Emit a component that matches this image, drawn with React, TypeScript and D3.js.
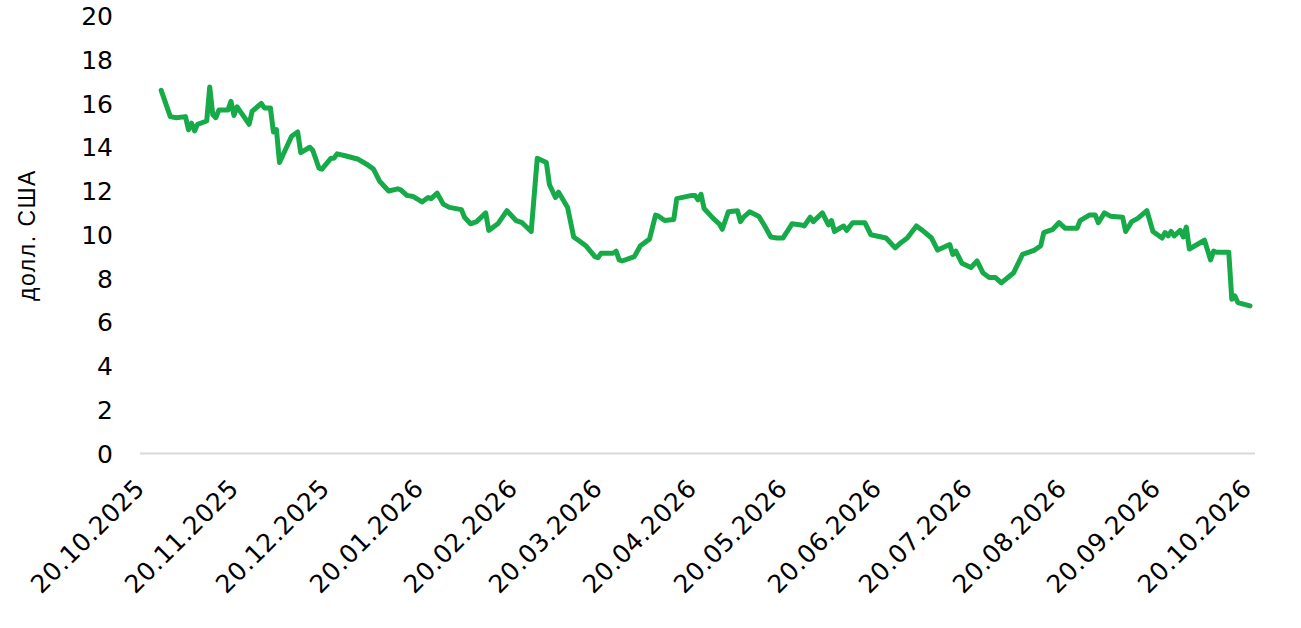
import React, { useEffect, useRef } from "react";
import * as d3 from "d3";

const dates = [
  "2025-10-26", "2025-10-29", "2025-10-31", "2025-11-03", "2025-11-04", "2025-11-05", "2025-11-06", "2025-11-07",
  "2025-11-10", "2025-11-11", "2025-11-12", "2025-11-13", "2025-11-14", "2025-11-17", "2025-11-18", "2025-11-19",
  "2025-11-20", "2025-11-21", "2025-11-24", "2025-11-25", "2025-11-28", "2025-11-29", "2025-12-01", "2025-12-02",
  "2025-12-03", "2025-12-04", "2025-12-08", "2025-12-10", "2025-12-11", "2025-12-14", "2025-12-15", "2025-12-17",
  "2025-12-18", "2025-12-21", "2025-12-22", "2025-12-23", "2025-12-26", "2025-12-30", "2026-01-02", "2026-01-04",
  "2026-01-06", "2026-01-07", "2026-01-09", "2026-01-12", "2026-01-13", "2026-01-15", "2026-01-17", "2026-01-20",
  "2026-01-22", "2026-01-23", "2026-01-25", "2026-01-27", "2026-01-29", "2026-02-02", "2026-02-03", "2026-02-05",
  "2026-02-07", "2026-02-10", "2026-02-11", "2026-02-14", "2026-02-17", "2026-02-20", "2026-02-22", "2026-02-25",
  "2026-02-27", "2026-03-02", "2026-03-03", "2026-03-05", "2026-03-06", "2026-03-09", "2026-03-11", "2026-03-13",
  "2026-03-15", "2026-03-18", "2026-03-19", "2026-03-20", "2026-03-24", "2026-03-25", "2026-03-26", "2026-03-27",
  "2026-03-31", "2026-04-02", "2026-04-05", "2026-04-07", "2026-04-08", "2026-04-10", "2026-04-13", "2026-04-14",
  "2026-04-19", "2026-04-20", "2026-04-21", "2026-04-22", "2026-04-23", "2026-04-26", "2026-04-28", "2026-04-29",
  "2026-05-01", "2026-05-04", "2026-05-05", "2026-05-06", "2026-05-08", "2026-05-11", "2026-05-13", "2026-05-15",
  "2026-05-17", "2026-05-19", "2026-05-22", "2026-05-25", "2026-05-26", "2026-05-28", "2026-05-29", "2026-06-01",
  "2026-06-03", "2026-06-04", "2026-06-05", "2026-06-08", "2026-06-09", "2026-06-11", "2026-06-15", "2026-06-17",
  "2026-06-22", "2026-06-23", "2026-06-25", "2026-06-27", "2026-06-29", "2026-07-02", "2026-07-04", "2026-07-07",
  "2026-07-09", "2026-07-13", "2026-07-14", "2026-07-15", "2026-07-17", "2026-07-20", "2026-07-22", "2026-07-24",
  "2026-07-26", "2026-07-28", "2026-07-30", "2026-08-03", "2026-08-06", "2026-08-10", "2026-08-12", "2026-08-13",
  "2026-08-16", "2026-08-18", "2026-08-20", "2026-08-24", "2026-08-25", "2026-08-28", "2026-08-30", "2026-08-31",
  "2026-09-02", "2026-09-04", "2026-09-08", "2026-09-09", "2026-09-11", "2026-09-13", "2026-09-16", "2026-09-18",
  "2026-09-21", "2026-09-22", "2026-09-23", "2026-09-24", "2026-09-25", "2026-09-27", "2026-09-28", "2026-09-29",
  "2026-09-30", "2026-10-05", "2026-10-07", "2026-10-08", "2026-10-09", "2026-10-13", "2026-10-14", "2026-10-15",
  "2026-10-16", "2026-10-20",
];

const prices = [
  16.6, 15.4, 15.35, 15.4, 14.8, 15.1, 14.75, 15.05,
  15.2, 16.75, 15.5, 15.35, 15.7, 15.7, 16.1, 15.45,
  15.85, 15.65, 15.05, 15.65, 16.0, 15.8, 15.8, 14.7,
  14.8, 13.3, 14.5, 14.7, 13.75, 14.0, 13.85, 13.05,
  13.0, 13.5, 13.5, 13.7, 13.6, 13.45, 13.2, 13.0,
  12.45, 12.3, 12.0, 12.1, 12.05, 11.8, 11.75, 11.5,
  11.7, 11.65, 11.9, 11.4, 11.25, 11.15, 10.8, 10.5,
  10.6, 11.0, 10.2, 10.5, 11.1, 10.65, 10.55, 10.15,
  13.5, 13.3, 12.3, 11.7, 11.95, 11.25, 9.9, 9.7,
  9.5, 9.0, 8.95, 9.15, 9.15, 9.25, 8.85, 8.8,
  9.0, 9.5, 9.8, 10.9, 10.85, 10.65, 10.7, 11.65,
  11.8, 11.8, 11.6, 11.85, 11.2, 10.75, 10.5, 10.25,
  11.05, 11.1, 10.6, 10.8, 11.05, 10.85, 10.4, 9.9,
  9.85, 9.85, 10.5, 10.45, 10.4, 10.8, 10.6, 11.0,
  10.45, 10.65, 10.15, 10.4, 10.2, 10.55, 10.55, 10.0,
  9.85, 9.7, 9.4, 9.65, 9.85, 10.4, 10.2, 9.85,
  9.3, 9.55, 9.1, 9.25, 8.7, 8.5, 8.8, 8.25,
  8.05, 8.05, 7.8, 8.25, 9.1, 9.3, 9.5, 10.1,
  10.25, 10.55, 10.3, 10.3, 10.65, 10.9, 10.9, 10.55,
  11.0, 10.85, 10.8, 10.15, 10.6, 10.75, 11.1, 10.15,
  9.85, 10.1, 9.95, 10.15, 9.95, 10.2, 9.9, 10.35,
  9.35, 9.75, 8.85, 9.25, 9.2, 9.2, 7.05, 7.2,
  6.9, 6.75,
];

const tickLabels = [
  "20.10.2025", "20.11.2025", "20.12.2025", "20.01.2026", "20.02.2026", "20.03.2026", "20.04.2026",
  "20.05.2026", "20.06.2026", "20.07.2026", "20.08.2026", "20.09.2026", "20.10.2026",
];

const yTicks = [0, 2, 4, 6, 8, 10, 12, 14, 16, 18, 20];

const yTitle = "долл. США";

const App = () => {
  const ref = useRef<SVGSVGElement>(null);

  useEffect(() => {
    const width = 1301;
    const height = 628;
    const svg = d3.select(ref.current)
      .attr("width", width)
      .attr("height", height);
    svg.selectAll("*").remove();

    const parseIso = d3.timeParse("%Y-%m-%d");
    const parseTick = d3.timeParse("%d.%m.%Y");
    const data = dates.map((d, i) => ({ date: parseIso(d) as Date, value: prices[i] }));
    const ticks = tickLabels.map(t => parseTick(t) as Date);

    const x = d3.scaleTime()
      .domain([ticks[0], ticks[ticks.length - 1]])
      .range([143, 1250]);

    const y = d3.scaleLinear()
      .domain([0, 20])
      .range([453.5, 16]);

    const font = "'DejaVu Sans', sans-serif";

    // y tick labels, no axis line
    svg.append("g")
      .selectAll("text")
      .data(yTicks)
      .enter()
      .append("text")
      .attr("x", 113)
      .attr("y", d => y(d))
      .attr("dy", "0.36em")
      .attr("text-anchor", "end")
      .style("font-family", font)
      .style("font-size", "25px")
      .style("fill", "#000")
      .text(d => d);

    // y title
    svg.append("text")
      .attr("transform", `translate(35, 235) rotate(-90)`)
      .attr("text-anchor", "middle")
      .style("font-family", "'Liberation Sans', Arial, sans-serif")
      .style("font-size", "23px")
      .style("letter-spacing", "1.5px")
      .style("fill", "#000")
      .text(yTitle);

    // baseline
    svg.append("line")
      .attr("x1", 140)
      .attr("x2", 1255)
      .attr("y1", y(0))
      .attr("y2", y(0))
      .attr("stroke", "#d9d9d9")
      .attr("stroke-width", 2);

    // x tick labels
    svg.append("g")
      .selectAll("text")
      .data(ticks)
      .enter()
      .append("text")
      .attr("transform", d => `translate(${x(d) + 3}, 490) rotate(-45)`)
      .attr("text-anchor", "end")
      .style("font-family", font)
      .style("font-size", "25px")
      .style("letter-spacing", "0.5px")
      .style("fill", "#000")
      .text((d, i) => tickLabels[i]);

    const line = d3.line<{ date: Date; value: number }>()
      .x(d => x(d.date))
      .y(d => y(d.value));

    svg.append("path")
      .datum(data)
      .attr("d", line)
      .attr("fill", "none")
      .attr("stroke", "#17AA49")
      .attr("stroke-width", 5)
      .attr("stroke-linejoin", "round")
      .attr("stroke-linecap", "round");
  }, []);

  return (
    <div style={{ position: "absolute", left: 0, top: 0, background: "#fff" }}>
      <svg ref={ref} style={{ display: "block" }} />
    </div>
  );
};

export default App;
